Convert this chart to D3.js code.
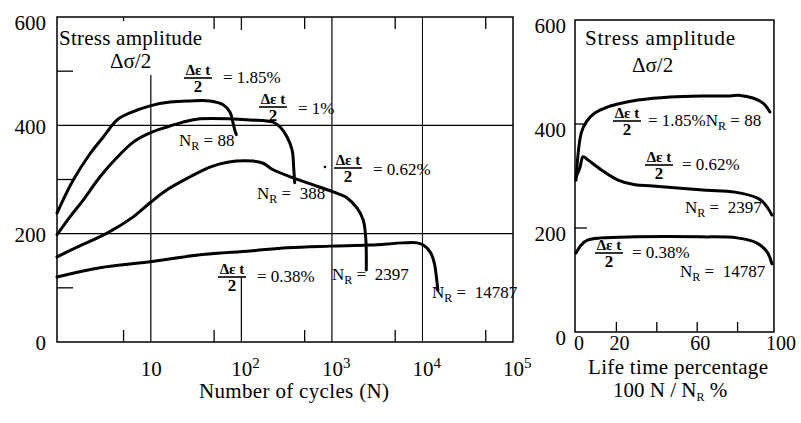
<!DOCTYPE html>
<html>
<head>
<meta charset="utf-8">
<script src="https://cdn.jsdelivr.net/npm/d3@7"></script>
<style>
body { margin: 0; background: #fff; }
svg { font-family: "Liberation Serif", "Times New Roman", serif; }
text { white-space: pre; fill: #000; }
.curve { fill: none; stroke: #000; stroke-width: 3; stroke-linejoin: round; stroke-linecap: round; }
.frame { fill: none; stroke: #000; stroke-width: 1.5; }
.grid { stroke: #000; stroke-width: 1.2; }
.tick { stroke: #000; stroke-width: 1.3; }
.lbl { font-size: 21px; }
.ann { font-size: 17px; }
</style>
</head>
<body>
<svg width="801" height="423"></svg>
<script>
// tick values
var cycleTicks = [10, 100, 1000, 10000, 100000];
var cycleMinor = [5, 50, 500, 5000, 50000];
var stressTicks = [0, 200, 400, 600];
var stressMinor = [100, 300, 500];
var pctTicks = [0, 20, 60, 100];
var pctMinor = [20, 40, 60, 80];

// stress amplitude vs number of cycles (left panel)
var cyc185 = [
    {n: 0.92, s: 238}, {n: 1.38, s: 298}, {n: 2.14, s: 348}, {n: 2.97, s: 378},
    {n: 4.25, s: 410}, {n: 5.9, s: 423}, {n: 9.8, s: 436}, {n: 16.3, s: 443},
    {n: 27, s: 445}, {n: 45, s: 445}, {n: 63, s: 438}, {n: 75, s: 424},
    {n: 81, s: 404}, {n: 85, s: 390}, {n: 88, s: 383}
];
var cyc100 = [
    {n: 0.92, s: 198}, {n: 1.28, s: 231}, {n: 1.79, s: 262}, {n: 2.75, s: 305},
    {n: 4.25, s: 341}, {n: 6.4, s: 369}, {n: 9.8, s: 386}, {n: 15.1, s: 397},
    {n: 22.7, s: 406}, {n: 35, s: 412}, {n: 125, s: 410}, {n: 224, s: 406},
    {n: 268, s: 397}, {n: 321, s: 378}, {n: 364, s: 354}, {n: 378, s: 323},
    {n: 388, s: 294}
];
var cyc062 = [
    {n: 0.92, s: 157}, {n: 1.53, s: 175}, {n: 3.29, s: 201}, {n: 6.4, s: 231},
    {n: 9.8, s: 257}, {n: 15.1, s: 281}, {n: 27.2, s: 305}, {n: 45, s: 323},
    {n: 70, s: 332}, {n: 135, s: 334}, {n: 174, s: 330}, {n: 224, s: 318},
    {n: 374, s: 303}, {n: 622, s: 290}, {n: 1035, s: 277}, {n: 1473, s: 266},
    {n: 1900, s: 247}, {n: 2218, s: 225}, {n: 2340, s: 201}, {n: 2390, s: 175},
    {n: 2397, s: 133}
];
var cyc038 = [
    {n: 0.92, s: 120}, {n: 2.75, s: 137}, {n: 9.8, s: 148}, {n: 35, s: 161},
    {n: 125, s: 168}, {n: 321, s: 174}, {n: 957, s: 177}, {n: 2650, s: 179},
    {n: 6120, s: 183}, {n: 8750, s: 183}, {n: 10200, s: 179}, {n: 12200, s: 166},
    {n: 13500, s: 146}, {n: 14400, s: 114}, {n: 14787, s: 96}
];

// stress amplitude vs life time percentage (right panel)
var pct185 = [
    {p: 0, s: 292}, {p: 2.6, s: 383}, {p: 5.1, s: 404}, {p: 9.3, s: 421},
    {p: 15.8, s: 433}, {p: 22.3, s: 440}, {p: 30.7, s: 446}, {p: 46.5, s: 452},
    {p: 62.9, s: 454}, {p: 76.2, s: 454}, {p: 81.2, s: 455}, {p: 87.6, s: 450},
    {p: 92.6, s: 440}, {p: 96, s: 423}
];
var pct062 = [
    {p: 0, s: 298}, {p: 2, s: 317}, {p: 3.5, s: 337}, {p: 5.9, s: 331},
    {p: 12.4, s: 312}, {p: 20.8, s: 292}, {p: 29.2, s: 283}, {p: 38.1, s: 281},
    {p: 62.9, s: 273}, {p: 78.7, s: 269}, {p: 89.6, s: 258}, {p: 92.6, s: 250},
    {p: 95, s: 238}, {p: 97, s: 225}
];
var pct038 = [
    {p: 0, s: 152}, {p: 2.5, s: 167}, {p: 5.9, s: 177}, {p: 12.4, s: 181},
    {p: 29.2, s: 183}, {p: 61.4, s: 183}, {p: 79.7, s: 181}, {p: 89.6, s: 171},
    {p: 94.6, s: 154}, {p: 97, s: 131}
];

var svg = d3.select("svg");

var lx = d3.scaleLog().domain([0.92, 1e5]).range([57, 513]);
var ly = d3.scaleLinear().domain([0, 600]).range([342, 17]);
var rx = d3.scaleLinear().domain([0, 100]).range([576, 778]);
var ry = d3.scaleLinear().domain([0, 600]).range([332, 20]);

var cycLine = d3.line()
    .x(function(d) { return lx(d.n); })
    .y(function(d) { return ly(d.s); })
    .curve(d3.curveCatmullRom.alpha(0.5));
var pctLine = d3.line()
    .x(function(d) { return rx(d.p); })
    .y(function(d) { return ry(d.s); })
    .curve(d3.curveCatmullRom.alpha(0.5));

// text with sub/superscript parts: [text, kind]
function richText(g, x, y, parts, cls) {
    var t = g.append("text").attr("class", cls || "ann").attr("x", x).attr("y", y);
    parts.forEach(function(p) {
        if (p[1] === "sub") {
            t.append("tspan").attr("dy", 4).style("font-size", "12px").text(p[0]);
        } else if (p[1] === "sup") {
            t.append("tspan").attr("dy", -8).style("font-size", "15px").text(p[0]);
        } else {
            t.append("tspan").attr("dy", p[1] === "back" ? -4 : 0).text(p[0]);
        }
    });
    return t;
}

function fraction(g, cx, by) {
    g.append("text").attr("class", "ann").attr("x", cx).attr("y", by - 3)
        .attr("text-anchor", "middle").style("font-weight", "bold").style("font-size", "15px").text("Δε t");
    g.append("line").attr("x1", cx - 14).attr("x2", cx + 14).attr("y1", by).attr("y2", by)
        .attr("stroke", "#000").attr("stroke-width", 1.6);
    g.append("text").attr("class", "ann").attr("x", cx).attr("y", by + 14)
        .attr("text-anchor", "middle").style("font-weight", "bold").text("2");
}

// ---------- left panel ----------
var left = svg.append("g");

// grid lines
stressTicks.filter(function(v) { return v == 200 || v == 400; }).forEach(function(v) {
    left.append("line").attr("class", "grid")
        .attr("x1", lx(0.92)).attr("x2", lx(1e5)).attr("y1", ly(v)).attr("y2", ly(v));
});
left.append("line").attr("class", "grid")
    .attr("x1", lx(10)).attr("x2", lx(10)).attr("y1", ly(493)).attr("y2", ly(0));
left.append("line").attr("class", "grid")
    .attr("x1", lx(100)).attr("x2", lx(100)).attr("y1", ly(120)).attr("y2", ly(0));
left.append("line").attr("class", "grid")
    .attr("x1", lx(100)).attr("x2", lx(100)).attr("y1", ly(600)).attr("y2", ly(576));
[1000, 10000].forEach(function(v) {
    left.append("line").attr("class", "grid").style("stroke-width", v == 10000 ? 1 : 1.2)
        .attr("x1", lx(v)).attr("x2", lx(v)).attr("y1", ly(600)).attr("y2", ly(0));
});
cycleMinor.forEach(function(v) {
    left.append("line").attr("class", "tick")
        .attr("x1", lx(v)).attr("x2", lx(v)).attr("y1", ly(0)).attr("y2", ly(0) - 12);
    left.append("line").attr("class", "tick")
        .attr("x1", lx(v)).attr("x2", lx(v)).attr("y1", ly(600)).attr("y2", ly(600) + (v == 5 ? 4 : 12));
});
stressMinor.forEach(function(v) {
    left.append("line").attr("class", "tick")
        .attr("x1", lx(0.92)).attr("x2", lx(0.92) + 16).attr("y1", ly(v)).attr("y2", ly(v));
});

left.append("rect").attr("class", "frame")
    .attr("x", lx(0.92)).attr("y", ly(600))
    .attr("width", lx(1e5) - lx(0.92)).attr("height", ly(0) - ly(600));

// axis labels
stressTicks.forEach(function(v) {
    left.append("text").attr("class", "lbl").attr("x", 46).attr("y", Math.max(ly(v) + 1, 23))
        .attr("dy", "0.35em").attr("text-anchor", "end").text(v);
});
cycleTicks.forEach(function(v, i) {
    var parts = [["10", null]];
    if (i > 0) parts.push([String(i + 1), "sup"]);
    richText(left, lx(v) - 10, 376, parts, "lbl");
});
left.append("text").attr("class", "lbl").attr("x", 294).attr("y", 398)
    .attr("text-anchor", "middle").attr("textLength", 190).text("Number of cycles (N)");

// curves
[cyc185, cyc100, cyc062, cyc038].forEach(function(d) {
    left.append("path").datum(d).attr("class", "curve").attr("d", cycLine);
});

// annotations
left.append("text").attr("class", "lbl").attr("x", 59).attr("y", 45).attr("textLength", 143).text("Stress amplitude");
left.append("text").attr("class", "lbl").attr("x", 110).attr("y", 68).text("Δσ/2");
fraction(left, 198, 78);
richText(left, 223, 83, [["= 1.85%", null]]);
fraction(left, 273, 107);
richText(left, 298, 114, [["= 1%", null]]);
left.append("circle").attr("cx", 325).attr("cy", 167).attr("r", 1.3).attr("fill", "#000");
fraction(left, 348, 168);
richText(left, 373, 175, [["= 0.62%", null]]);
fraction(left, 232, 277);
richText(left, 257, 282, [["= 0.38%", null]]);
richText(left, 179, 146, [["N", null], ["R", "sub"], [" = 88", "back"]]);
richText(left, 257, 199, [["N", null], ["R", "sub"], [" =  388", "back"]]);
richText(left, 332, 280, [["N", null], ["R", "sub"], [" =  2397", "back"]]);
richText(left, 432, 298, [["N", null], ["R", "sub"], [" =  14787", "back"]]);

// ---------- right panel ----------
var right = svg.append("g");

[200, 400].forEach(function(v) {
    right.append("line").attr("class", "tick")
        .attr("x1", rx(0) - 1).attr("x2", rx(0) + 11).attr("y1", ry(v)).attr("y2", ry(v));
});
pctMinor.forEach(function(v) {
    right.append("line").attr("class", "tick")
        .attr("x1", rx(v)).attr("x2", rx(v)).attr("y1", ry(0)).attr("y2", ry(0) - 10);
});
right.append("rect").attr("class", "frame")
    .attr("x", rx(0) - 1).attr("y", ry(600))
    .attr("width", rx(98) - rx(0) + 1).attr("height", ry(0) - ry(600));

stressTicks.forEach(function(v) {
    right.append("text").attr("class", "lbl").attr("x", 566).attr("y", ry(v) + 6)
        .attr("dy", "0.35em").attr("text-anchor", "end").text(v);
});
pctTicks.forEach(function(v) {
    right.append("text").attr("class", "lbl").style("font-size", "20px")
        .attr("x", rx(v) + 3).attr("y", 350)
        .attr("text-anchor", "middle").text(v);
});
right.append("text").attr("class", "lbl").attr("x", 678).attr("y", 374)
    .attr("text-anchor", "middle").attr("textLength", 180).text("Life time percentage");
richText(right, 613, 397, [["100 N / N", null], ["R", "sub"], [" %", "back"]], "lbl");

[pct185, pct062, pct038].forEach(function(d) {
    right.append("path").datum(d).attr("class", "curve").attr("d", pctLine);
});

right.append("text").attr("class", "lbl").attr("x", 585).attr("y", 45).attr("textLength", 150).text("Stress amplitude");
right.append("text").attr("class", "lbl").attr("x", 632).attr("y", 72).text("Δσ/2");
fraction(right, 627, 121);
richText(right, 648, 126, [["= 1.85%N", null], ["R", "sub"], [" = 88", "back"]]);
fraction(right, 659, 165);
richText(right, 682, 170, [["= 0.62%", null]]);
richText(right, 685, 213, [["N", null], ["R", "sub"], [" =  2397", "back"]]);
fraction(right, 609, 253);
richText(right, 632, 258, [["= 0.38%", null]]);
richText(right, 680, 277, [["N", null], ["R", "sub"], [" =  14787", "back"]]);
</script>
</body>
</html>
